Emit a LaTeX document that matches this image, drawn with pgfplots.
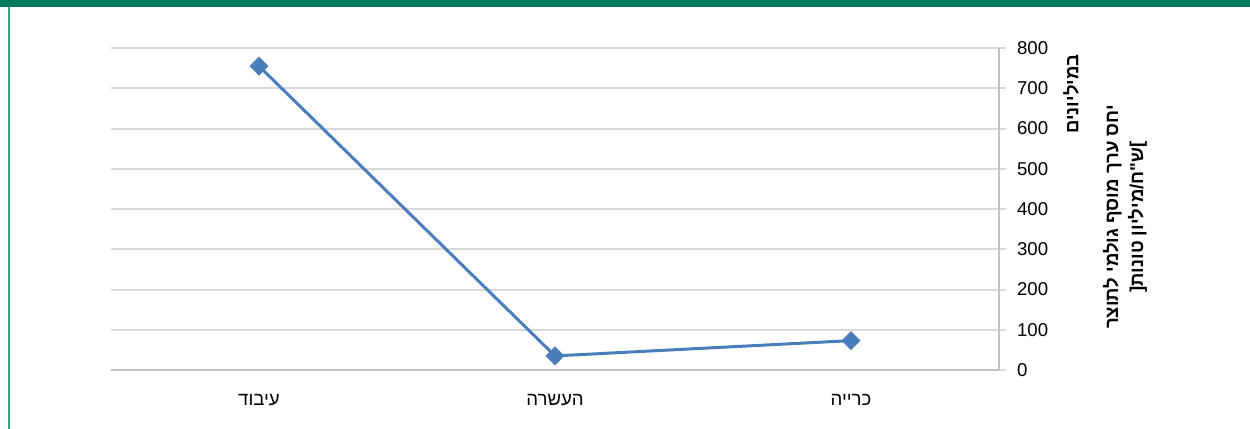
\documentclass[border=0pt]{standalone}
\usepackage{fontspec}
\usepackage{pgfplots}
\pgfplotsset{compat=1.18}
\setmainfont{Liberation Sans}
\newfontfamily\hebfont[Script=Hebrew]{Liberation Sans}
\TeXXeTstate=1

\definecolor{bandgreen}{HTML}{00795C}
\definecolor{edgegreen}{HTML}{3E9E86}
\definecolor{gridgray}{HTML}{D9D9D9}
\definecolor{axisgray}{HTML}{BFBFBF}
\definecolor{seriesblue}{HTML}{4A7EBB}

\begin{document}
\begin{tikzpicture}
% page frame: 1250 x 429 px at 0.5pt per px
\path[use as bounding box] (0,0) rectangle (625pt,-214.5pt);
\fill[bandgreen] (0,0) rectangle (625pt,-3.6pt);
\draw[edgegreen, line width=1pt] (4.6pt,-3.6pt) -- (4.6pt,-214.5pt);

\begin{axis}[
  at={(55.5pt,-185pt)}, anchor=south west,
  scale only axis, width=444pt, height=161pt,
  xmin=0, xmax=3, ymin=0, ymax=800,
  axis x line*=bottom, axis y line*=right,
  axis line style={axisgray, line width=0.8pt},
  tick align=outside,
  ytick={0,100,...,800},
  major tick length=3.5pt,
  ytick style={gridgray, line width=1pt},
  ymajorgrids, grid style={gridgray, line width=1pt},
  xtick={0.5,1.5,2.5},
  xticklabels={{\beginR עיבוד\endR},{\beginR העשרה\endR},{\beginR כרייה\endR}},
  x tick style={draw=none},
  extra x ticks={0,1,2,3},
  extra x tick labels={},
  extra x tick style={major tick length=3pt, tick style={axisgray, line width=0.8pt}, grid=none},
  xticklabel style={font=\hebfont\fontsize{9.3}{11}\selectfont, yshift=-5pt},
  yticklabel style={font=\fontsize{9.3}{11}\selectfont, xshift=2pt},
  /pgf/number format/assume math mode=true,
  clip=false,
]
\addplot[seriesblue, line width=1.5pt, mark=square*, mark size=2.6pt,
  mark options={rotate=45, fill=seriesblue, draw=seriesblue}]
  coordinates {(0.5,755) (1.5,35) (2.5,73)};

% axis title, two lines, read bottom to top
\node[rotate=90, font=\hebfont\bfseries\fontsize{9.3}{12.5}\selectfont, align=center]
  at ([xshift=63pt, yshift=-4pt]rel axis cs:1,0.5)
  {\beginR יחס ערך מוסף גולמי לתוצר\endR\\{[}\beginR ש"ח/מיליון טונות\endR{]}};
% display units
\node[rotate=90, font=\hebfont\bfseries\fontsize{9.3}{11}\selectfont]
  at ([xshift=36pt, yshift=-23pt]rel axis cs:1,1) {\beginR במיליונים\endR};
\end{axis}
\end{tikzpicture}
\end{document}
